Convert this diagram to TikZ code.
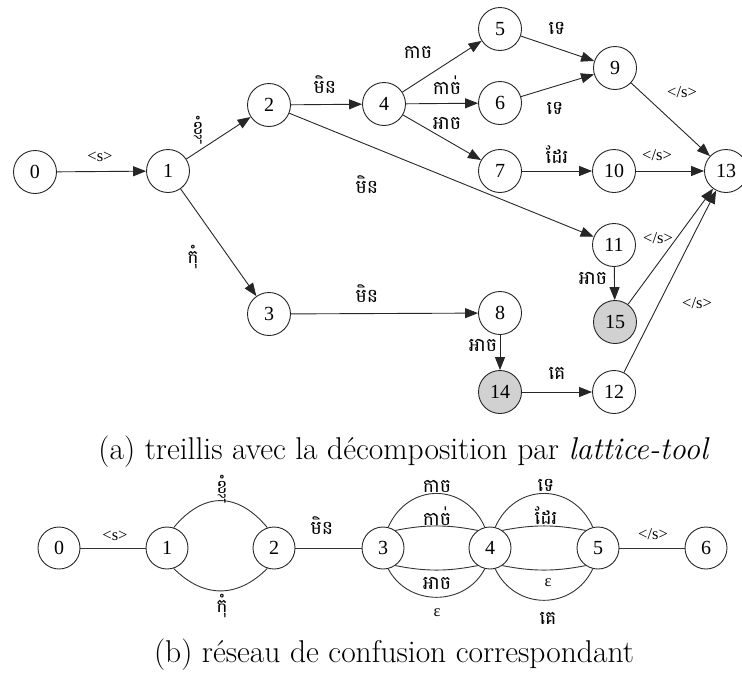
\documentclass[tikz,border=0pt]{standalone}
\usepackage{fontspec}
\newfontfamily\tnr{Liberation Serif}
\newfontfamily\khm[Script=Khmer]{Battambang}
\usetikzlibrary{arrows.meta}
\begin{document}
\begin{tikzpicture}[x=1pt,y=-1pt,
  st/.style={circle,draw=black!85,line width=0.9pt,minimum size=43pt,inner sep=0pt,font=\tnr\fontsize{20}{20}\selectfont},
  cn/.style={st,minimum size=42pt},
  gr/.style={fill=black!18},
  arr/.style={-{Triangle[length=13pt,width=10pt]},line width=0.9pt,draw=black!85},
  ln/.style={line width=0.9pt,draw=black!80},
  lt/.style={font=\tnr\fontsize{16.5}{16.5}\selectfont,inner sep=0pt},
  lk/.style={font=\khm\fontsize{19}{19}\selectfont,inner sep=0pt},
  captext/.style={font=\fontsize{31.5}{36}\selectfont,inner sep=0pt}
]
\useasboundingbox (0,0) rectangle (742,675);
% ---------- (a) lattice ----------
\node[st] (a0) at (35,172) {0};
\node[st] (a1) at (168,171) {1};
\node[st] (a2) at (269,105) {2};
\node[st] (a3) at (269,314) {3};
\node[st] (a4) at (384,104) {4};
\node[st] (a5) at (500,29) {5};
\node[st] (a6) at (500,103) {6};
\node[st] (a7) at (500,171) {7};
\node[st] (a8) at (500,313) {8};
\node[st] (a9) at (615,68) {9};
\node[st] (a10) at (614,171) {10};
\node[st] (a11) at (614,245) {11};
\node[st] (a12) at (614,392) {12};
\node[st] (a13) at (726,171) {13};
\node[st,gr] (a14) at (500,392) {14};
\node[st,gr] (a15) at (615,322) {15};

\draw[arr] (a0) -- (a1);
\draw[arr] (a1) -- (a2);
\draw[arr] (a1) -- (a3);
\draw[arr] (a2) -- (a4);
\draw[arr] (a2) -- (a11);
\draw[arr] (a3) -- (a8);
\draw[arr] (a4) -- (a5);
\draw[arr] (a4) -- (a6);
\draw[arr] (a4) -- (a7);
\draw[arr] (a5) -- (a9);
\draw[arr] (a6) -- (a9);
\draw[arr] (a7) -- (a10);
\draw[arr] (a9) -- (a13);
\draw[arr] (a10) -- (a13);
\draw[arr] (a11) -- (a15);
\draw[arr] (a15) -- (a13);
\draw[arr] (a8) -- (a14);
\draw[arr] (a14) -- (a12);
\draw[arr] (a12) -- (a13);

\node[lt] (l01) at (100,157) {<s>};
\node[lk] (l12) at (198,130) {ខ្ញុំ};
\node[lk] (l13) at (193,257) {កុំ};
\node[lk] (l24) at (325,85) {មិន};
\node[lk] (l211) at (367,185) {មិន};
\node[lk] (l38) at (367,294) {មិន};
\node[lk] (l45) at (418,52) {កាច};
\node[lk] (l46) at (447,85) {កាច់};
\node[lk] (l47) at (447,123) {អាច};
\node[lk] (l59) at (557,28) {ទេ};
\node[lk] (l69) at (555,108) {ទេ};
\node[lk] (l710) at (557,155) {ដែរ};
\node[lt] (l913) at (682,92) {</s>};
\node[lt] (l1013) at (657,155) {</s>};
\node[lk] (l1115) at (593,278) {អាច};
\node[lt] (l1513) at (658,238) {</s>};
\node[lt] (l1213) at (697,303) {</s>};
\node[lk] (l814) at (483,345) {អាច};
\node[lk] (l1412) at (557,373) {គេ};

\node[captext] (capa) at (404,452) {(a) treillis avec la décomposition par \textit{lattice-tool}};

% ---------- (b) confusion network ----------
\node[cn] (b0) at (59,548) {0};
\node[cn] (b1) at (167,548) {1};
\node[cn] (b2) at (274,548) {2};
\node[cn] (b3) at (383,548) {3};
\node[cn] (b4) at (490,548) {4};
\node[cn] (b5) at (598,548) {5};
\node[cn] (b6) at (706,548) {6};

\draw[ln] (b0) -- (b1);
\draw[ln] (b1.72) .. controls +(30,-36) and +(-30,-36) .. (b2.108);
\draw[ln] (b1.-72) .. controls +(30,30) and +(-30,30) .. (b2.-108);
\draw[ln] (b2) -- (b3);
\draw[ln] (b3.76) .. controls +(20,-45) and +(-20,-45) .. (b4.104);
\draw[ln] (b3.55) .. controls +(30,-6) and +(-30,-6) .. (b4.125);
\draw[ln] (b3.-55) .. controls +(30,6) and +(-30,6) .. (b4.-125);
\draw[ln] (b3.-76) .. controls +(20,38) and +(-20,38) .. (b4.-104);
\draw[ln] (b4.76) .. controls +(20,-45) and +(-20,-45) .. (b5.104);
\draw[ln] (b4.55) .. controls +(30,-6) and +(-30,-6) .. (b5.125);
\draw[ln] (b4.-55) .. controls +(30,6) and +(-30,6) .. (b5.-125);
\draw[ln] (b4.-76) .. controls +(20,42) and +(-20,42) .. (b5.-104);
\draw[ln] (b5) -- (b6);

\node[lt] (m01) at (115,536) {<s>};
\node[lk] (m12a) at (222,489) {ខ្ញុំ};
\node[lk] (m12b) at (222,606) {កុំ};
\node[lk] (m23) at (322,526) {មិន};
\node[lk] (m34a) at (437,486) {កាច};
\node[lk] (m34b) at (437,516) {កាច់};
\node[lk] (m34c) at (437,583) {អាច};
\node[lt] (m34d) at (437,613) {ε};
\node[lk] (m45a) at (546,485) {ទេ};
\node[lk] (m45b) at (546,516) {ដែរ};
\node[lt] (m45c) at (548,583) {ε};
\node[lk] (m45d) at (548,618) {គេ};
\node[lt] (m56) at (653,534) {</s>};

\node[captext] (capb) at (394,655) {(b) réseau de confusion correspondant};
\end{tikzpicture}
\end{document}
